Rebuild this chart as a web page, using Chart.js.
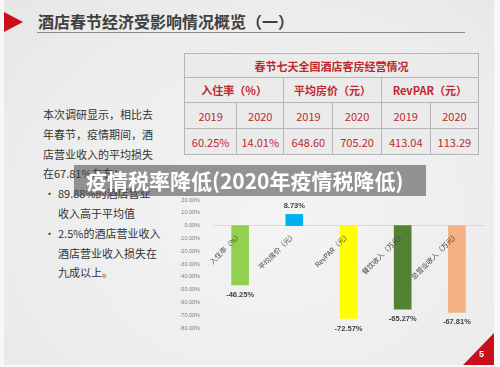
<!DOCTYPE html>
<html>
<head>
<meta charset="utf-8">
<script src="https://cdn.jsdelivr.net/npm/chart.js@4.4.1/dist/chart.umd.min.js"></script>
<style>
  html, body { margin: 0; padding: 0; }
  body { width: 500px; height: 367px; background: #f7f7f7; position: relative; overflow: hidden;
         font-family: "Noto Sans CJK SC", "Noto Sans", sans-serif; }
  .slide { position: absolute; left: 4px; top: 0; width: 490px; height: 365px;
           background: radial-gradient(ellipse at 55% 60%, #f4f4f4 0%, #ececec 70%, #e6e6e6 100%); }
  .abs { position: absolute; }
  .tri { left: 4px; top: 12px; width: 0; height: 0; border-top: 10px solid transparent;
         border-bottom: 10px solid transparent; border-left: 19px solid #c9101a; }
  .title { left: 38px; top: 9px; font-size: 16px; font-weight: bold; color: #404040; white-space: nowrap; }
  .rule { left: 37px; top: 32px; width: 428px; height: 1px; background: #8a8a8a; }
  table { position: absolute; left: 184px; top: 53px; border-collapse: collapse; background: #ebebeb; }
  td { border: 1px solid #b5b5b5; color: #c0282d; text-align: center; padding: 0; font-size: 11px; }
  .note { left: 43px; top: 105px; font-size: 11px; line-height: 19.8px; color: #333; white-space: nowrap; }
  .note .b { position: relative; padding-left: 15px; }
  .note .b::before { content: "•"; position: absolute; left: 1px; }
  .note .i { padding-left: 15px; }
  .banner { left: 74px; top: 165px; width: 352px; height: 31px; background: rgba(60,60,60,0.52);
            color: #fff; font-size: 21px; font-weight: bold; line-height: 31px; padding-left: 12px;
            box-sizing: border-box; white-space: nowrap; }
  #wrap { position: absolute; left: 180px; top: 190px; width: 310px; height: 160px; }
  .corner { right: 6px; bottom: 2px; width: 0; height: 0; border-left: 31px solid transparent;
            border-bottom: 32px solid #c9101a; }
  .num { left: 479px; top: 349px; color: #fff; font-size: 9px; font-weight: bold; font-family: "Liberation Sans", sans-serif; }
</style>
</head>
<body>
<div class="slide"></div>
<div class="abs tri"></div>
<div class="abs title">酒店春节经济受影响情况概览（一）</div>
<div class="abs rule"></div>

<table>
  <tr style="height:24px"><td colspan="6" style="font-weight:bold;width:293px">春节七天全国酒店客房经营情况</td></tr>
  <tr style="height:25px">
    <td colspan="2" style="font-weight:bold">入住率（%）</td>
    <td colspan="2" style="font-weight:bold">平均房价（元）</td>
    <td colspan="2" style="font-weight:bold">RevPAR（元）</td>
  </tr>
  <tr style="height:26px">
    <td style="width:51px">2019</td><td style="width:46px">2020</td>
    <td style="width:48px">2019</td><td style="width:47px">2020</td>
    <td style="width:48px">2019</td><td style="width:47px">2020</td>
  </tr>
  <tr style="height:26px">
    <td>60.25%</td><td>14.01%</td><td>648.60</td><td>705.20</td><td>413.04</td><td>113.29</td>
  </tr>
</table>

<div class="abs note">
  <div>本次调研显示，相比去</div>
  <div>年春节，疫情期间，酒</div>
  <div>店营业收入的平均损失</div>
  <div>在67.81%左右：</div>
  <div class="b">89.88%的酒店营业</div>
  <div class="i">收入高于平均值</div>
  <div class="b">2.5%的酒店营业收入</div>
  <div class="i">酒店营业收入损失在</div>
  <div class="i">九成以上。</div>
</div>

<div id="wrap"><canvas id="bars"></canvas></div>

<div class="abs banner">疫情税率降低(2020年疫情税降低)</div>
<div class="abs corner"></div>
<div class="abs num">5</div>

<script>
const categories = ["入住率（%）", "平均房价（元）", "RevPAR（元）", "餐饮收入（万元）", "总营业收入（万元）"];
const changes = [-46.25, 8.73, -72.57, -65.27, -67.81];
const barColors = ["#92d050", "#00b0f0", "#ffff00", "#548235", "#f4b183"];
const yTicks = [20, 10, 0, -10, -20, -30, -40, -50, -60, -70, -80];

// value labels above / below each bar
const valueLabels = {
  id: "valueLabels",
  afterDatasetsDraw(chart) {
    const ctx = chart.ctx;
    const meta = chart.getDatasetMeta(0);
    ctx.save();
    ctx.font = "bold 7.5px 'Liberation Sans', sans-serif";
    ctx.fillStyle = "#404040";
    ctx.textAlign = "center";
    ctx.textBaseline = "middle";
    meta.data.forEach((bar, i) => {
      const v = changes[i];
      const y = v >= 0 ? bar.y - 8 : bar.y + 10;
      ctx.fillText(v.toFixed(2) + "%", bar.x, y);
    });
    ctx.restore();
  }
};

new Chart(document.getElementById("bars"), {
  type: "bar",
  data: {
    labels: categories,
    datasets: [{
      data: changes,
      backgroundColor: barColors,
      barThickness: 17
    }]
  },
  options: {
    responsive: true,
    maintainAspectRatio: false,
    animation: false,
    layout: { padding: { top: 10, bottom: 22, right: 6, left: 0 } },
    plugins: { legend: { display: false }, tooltip: { enabled: false } },
    scales: {
      x: {
        position: { y: 0 },
        grid: { display: false, drawTicks: false },
        border: { color: "#d9d9d9", width: 1 },
        ticks: {
          z: 1,
          color: "#454545",
          font: { size: 7, family: "'Noto Sans CJK SC', sans-serif" },
          minRotation: 45,
          maxRotation: 45,
          padding: 5,
          autoSkip: false
        },
        afterFit(scale) {
          scale.paddingLeft = 0; scale.paddingRight = 0;
          scale.paddingTop = 0; scale.paddingBottom = 0;
        }
      },
      y: {
        min: -80,
        max: 20,
        afterBuildTicks(scale) { scale.ticks = yTicks.map(v => ({ value: v })); },
        grid: { display: false },
        border: { display: false },
        ticks: {
          color: "#7a7a7a",
          font: { size: 5.5, family: "'Liberation Sans', sans-serif" },
          padding: 5,
          callback: v => v.toFixed(2) + "%"
        },
        afterFit(scale) {
          scale.width = 33;
          scale.paddingTop = 0; scale.paddingBottom = 0;
        }
      }
    }
  },
  plugins: [valueLabels]
});
</script>
</body>
</html>
